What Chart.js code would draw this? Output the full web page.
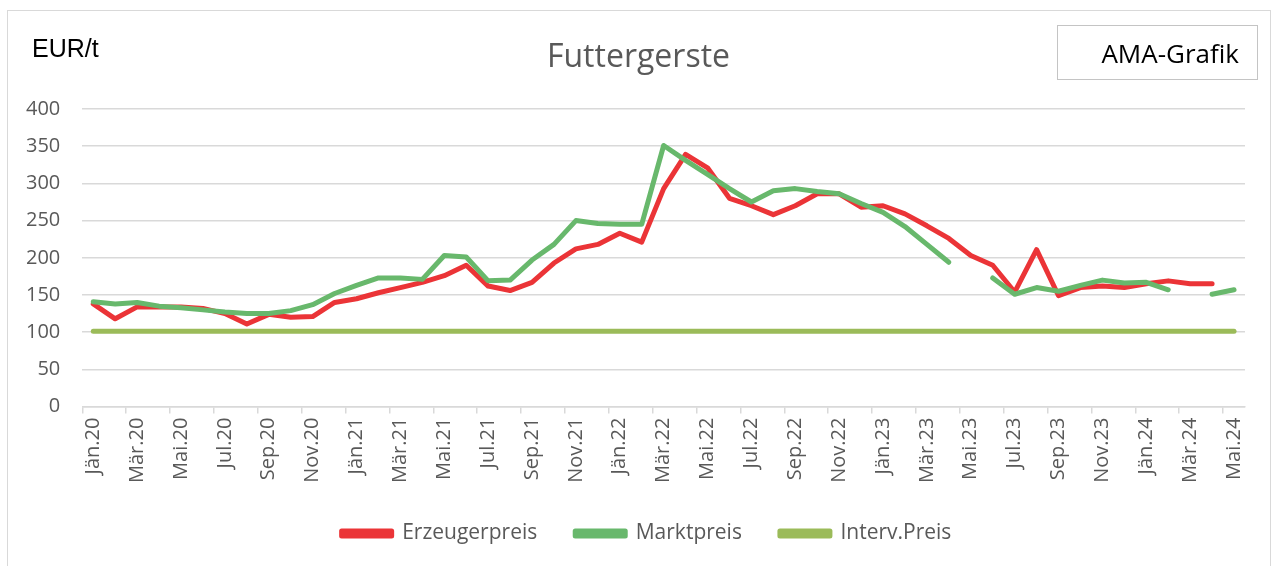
<!DOCTYPE html>
<html>
<head>
<meta charset="utf-8">
<script src="https://cdn.jsdelivr.net/npm/chart.js@4"></script>
<style>
  body { margin: 0; background: #fff; }
  #wrap { position: relative; width: 1277px; height: 566px; overflow: hidden; font-variant-ligatures: none; }
  #frame { position: absolute; left: 7px; top: 10px; width: 1262px; height: 570px; border: 1.5px solid #d9d9d9; }
  #unit { position: absolute; left: 32px; top: 34px; font: 25px "Liberation Sans", Arial, sans-serif; color: #000; white-space: nowrap; }
  #title { position: absolute; left: 0; width: 1277px; top: 33px; text-align: center; font: 32px "Open Sans", sans-serif; color: #595959; }
  #amabox { position: absolute; left: 1057px; top: 25px; width: 201px; height: 55px; border: 1.5px solid #c4c4c4; box-sizing: border-box; }
  #ama { position: absolute; right: 38px; top: 35px; font: 26px "Open Sans", sans-serif; color: #000; white-space: nowrap; }
</style>
</head>
<body>
<div id="wrap">
  <div id="frame"></div>
  <canvas id="chart" width="1277" height="566"></canvas>
  <div id="unit">EUR/t</div>
  <div id="title">Futtergerste</div>
  <div id="amabox"></div>
  <div id="ama">AMA-Grafik</div>
</div>
<script>
  const months = ["Jän", "Feb", "Mär", "Apr", "Mai", "Jun", "Jul", "Aug", "Sep", "Okt", "Nov", "Dez"];
  const years = ["20", "21", "22", "23", "24"];

  const labels = [];
  years.forEach(y => months.forEach(m => labels.push(m + "." + y)));
  labels.length = 53; // Jän.20 .. Mai.24

  const erzeugerpreis = [
    138, 118, 134, 134, 134, 132, 125, 111, 124, 120, 121, 140,
    145, 153, 160, 167, 176, 190, 162, 156, 167, 193, 212, 218,
    233, 221, 293, 339, 321, 280, 270, 258, 270, 286, 286, 268,
    270, 259, 243, 226, 203, 190, 154, 211, 149, 160, 162, 160,
    165, 169, 165, 165, null
  ];

  const marktpreis = [
    141, 138, 140, 135, 133, 130, 127, 125, 125, 129, 137, 152,
    163, 173, 173, 171, 203, 201, 169, 170, 197, 218, 250, 246,
    245, 245, 351, 331, 312, 293, 275, 290, 293, 289, 286, 273,
    261, 242, 218, 194, null, 173, 151, 160, 155, 163, 170, 166,
    167, 157, null, 151, 157
  ];

  const intervPreis = labels.map(() => 101.31);

  const red = "rgb(235, 52, 55)";
  const green = "rgb(104, 184, 108)";
  const lime = "rgb(155, 187, 89)";
  const textColor = "#595959";
  const gridColor = "#d9d9d9";
  const font = "Open Sans";

  function lineSet(label, data, color, order) {
    return {
      label, data, order,
      borderColor: color,
      backgroundColor: color,
      borderWidth: 5,
      borderCapStyle: "round",
      borderJoinStyle: "round",
      pointRadius: 0,
      tension: 0,
      spanGaps: false
    };
  }

  // nudge the legend a bit to the right, like in the original
  const legendShift = {
    id: "legendShift",
    afterLayout(chart) {
      chart.legend.left += 22;
      chart.legend.right += 22;
    }
  };

  new Chart(document.getElementById("chart"), {
    type: "line",
    data: {
      labels,
      datasets: [
        lineSet("Erzeugerpreis", erzeugerpreis, red, 3),
        lineSet("Marktpreis", marktpreis, green, 2),
        lineSet("Interv.Preis", intervPreis, lime, 1)
      ]
    },
    plugins: [legendShift],
    options: {
      responsive: false,
      animation: false,
      layout: { padding: { left: 4, right: 32, top: 109, bottom: 12 } },
      plugins: {
        tooltip: { enabled: false },
        legend: {
          position: "bottom",
          labels: {
            color: textColor,
            font: { family: font, size: 21 },
            boxWidth: 50,
            boxHeight: 5,
            padding: 38,
            sort: (a, b) => a.datasetIndex - b.datasetIndex
          }
        }
      },
      scales: {
        x: {
          offset: true,
          afterFit: scale => { scale.height -= 2; },
          grid: {
            offset: true,
            drawOnChartArea: false,
            tickLength: 7,
            lineWidth: 1.5,
            color: ctx => ctx.index % 2 === 0 ? gridColor : "rgba(0,0,0,0)"
          },
          border: { color: gridColor, width: 1.5 },
          ticks: {
            autoSkip: false,
            maxRotation: 90,
            minRotation: 90,
            padding: 4,
            color: textColor,
            font: { family: font, size: 20 },
            callback: (v, i) => i % 2 === 0 ? labels[i] : ""
          }
        },
        y: {
          min: 0,
          max: 400,
          grid: { color: gridColor, lineWidth: 1.5, drawTicks: false },
          border: { display: false },
          ticks: {
            stepSize: 50,
            padding: 22,
            color: textColor,
            font: { family: font, size: 20 }
          }
        }
      }
    }
  });
</script>
</body>
</html>
